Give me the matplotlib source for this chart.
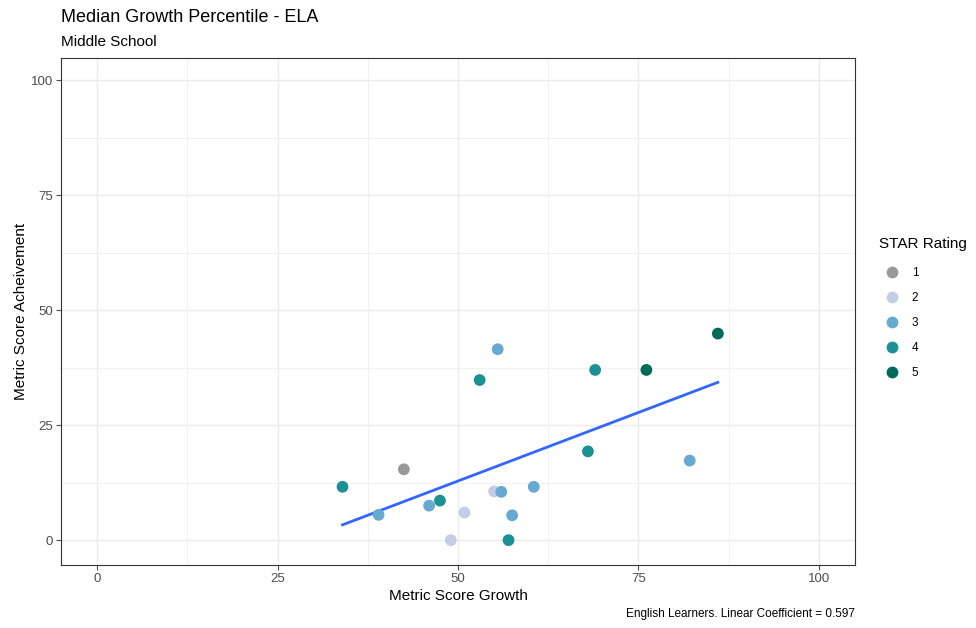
import numpy as np
import matplotlib.pyplot as plt
from matplotlib.lines import Line2D

plt.rcParams['font.family'] = ['Liberation Sans', 'DejaVu Sans']

# --- data ---
growth = [55.5, 53.0, 42.5, 34.0, 39.0, 46.0, 47.5, 50.9, 49.0, 55.0,
          56.0, 60.5, 57.5, 57.0, 69.0, 76.1, 86.0, 68.0, 82.1]
achievement = [41.5, 34.8, 15.4, 11.6, 5.5, 7.5, 8.6, 6.0, 0.0, 10.6,
               10.5, 11.6, 5.4, 0.0, 37.0, 37.0, 44.9, 19.3, 17.3]
rating = [3, 4, 1, 4, 3, 3, 4, 2, 2, 2,
          3, 3, 3, 4, 4, 5, 5, 4, 3]

rating_levels = [1, 2, 3, 4, 5]
rating_colors = ['#999999', '#c3cde3', '#66a9d1', '#1b9195', '#006b58']
ticks = [0, 25, 50, 75, 100]

title = 'Median Growth Percentile - ELA'
subtitle = 'Middle School'
caption = 'English Learners. Linear Coefficient = 0.597'

x = np.array(growth)
y = np.array(achievement)
cmap = dict(zip(rating_levels, rating_colors))

fig = plt.figure(figsize=(9.76, 6.28), dpi=100)
ax = fig.add_axes([61/976, 1 - 565/628, (855 - 61)/976, (565 - 58)/628])

# grid like theme_bw
for v in np.arange(-12.5, 113, 12.5):
    lw = 1.0 if v in ticks else 0.5
    ax.axvline(v, color='#ebebeb', lw=lw, zorder=0)
    ax.axhline(v, color='#ebebeb', lw=lw, zorder=0)

ax.scatter(x, y, c=[cmap[r] for r in rating], s=72, zorder=3, linewidths=0)

# linear fit
slope, icpt = np.polyfit(x, y, 1)
xs = np.linspace(x.min(), x.max(), 50)
ax.plot(xs, slope * xs + icpt, color='#3366ff', lw=2, zorder=2)

ax.set_xlim(-5, 105)
ax.set_ylim(-5.4, 104.8)
ax.set_xticks(ticks)
ax.set_yticks(ticks)
ax.tick_params(colors='#4d4d4d', labelsize=9.5, length=3.5, width=0.8,
               labelcolor='#4d4d4d', pad=2)
for s in ax.spines.values():
    s.set_color('#333333')
    s.set_linewidth(0.8)

ax.set_xlabel('Metric Score Growth', fontsize=11, labelpad=3)
ax.set_ylabel('Metric Score Acheivement', fontsize=11, labelpad=2)

fig.text(61/976, 1 - 17/628, title, fontsize=13, va='center', ha='left')
fig.text(61/976, 1 - 42/628, subtitle, fontsize=11, va='center', ha='left')
fig.text(855/976, 1 - 614/628, caption, fontsize=8.5, va='center', ha='right')

# legend
fig.text(879/976, 1 - 244/628, 'STAR Rating', fontsize=11, va='center', ha='left')
handles = [Line2D([], [], marker='o', ls='', color=c, markersize=8.5, markeredgewidth=0)
           for c in rating_colors]
leg = fig.legend(handles, [str(r) for r in rating_levels],
                 loc='upper left', bbox_to_anchor=(880/976, 1 - 265/628),
                 frameon=False, fontsize=8.5, borderaxespad=0, borderpad=0.2,
                 labelspacing=1.1, handletextpad=0.9, handlelength=1.6)

fig.savefig('out.png', dpi=100)
